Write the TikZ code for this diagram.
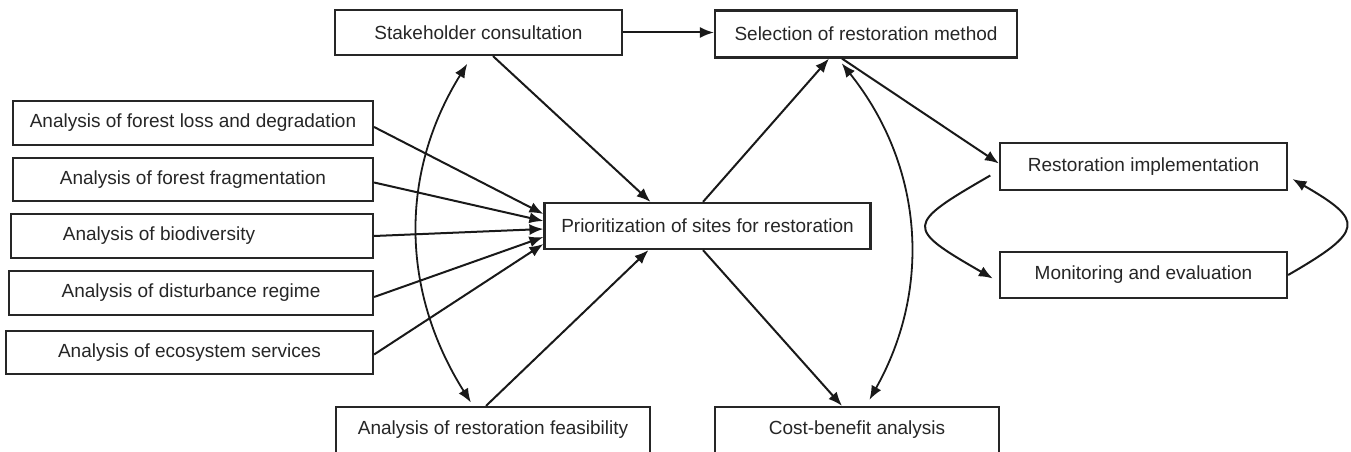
\documentclass[tikz,border=0pt]{standalone}
\usepackage{fontspec}
\setmainfont{Liberation Sans}
\usetikzlibrary{arrows.meta}
\tikzset{
  caixa/.style={draw=black!85, line width=2.2pt, fill=white, text=black!85, minimum height=44pt, inner sep=0pt, font=\fontsize{19}{22}\selectfont},
  seta/.style={line width=2pt, draw=black!90, -{Latex[length=14pt,width=11pt]}},
  setadupla/.style={line width=1.8pt, draw=black!90, {Latex[length=14pt,width=11pt]}-{Latex[length=14pt,width=11pt]}}
}
\begin{document}
\begin{tikzpicture}[x=1pt,y=-1pt] %Desenho em pixels
\useasboundingbox (0,0) rectangle (1351,452);
	%Caixas da esquerda
\node[caixa, minimum width=360pt] (perda) at (193,123) {Analysis of forest loss and degradation};
\node[caixa, minimum width=360pt, minimum height=43pt] (frag) at (193,179.5) {Analysis of forest fragmentation};
\node[caixa, minimum width=362pt] (bio) at (192,236) {\hspace*{-66pt}Analysis of biodiversity};
\node[caixa, minimum width=364pt] (dist) at (191,293) {Analysis of disturbance regime};
\node[caixa, minimum width=367pt, minimum height=43pt] (eco) at (189.5,352.5) {Analysis of ecosystem services};
	%Caixas do centro e da direita
\node[caixa, minimum width=287pt, minimum height=45pt] (consulta) at (478.5,32.5) {Stakeholder consultation};
\node[caixa, minimum width=302pt, minimum height=47pt] (selecao) at (866,34) {Selection of restoration method};
\node[caixa, minimum width=326pt, minimum height=46pt] (prior) at (707.5,226) {Prioritization of sites for restoration};
\node[caixa, minimum width=287pt, minimum height=47pt] (implem) at (1143.5,166.5) {Restoration implementation};
\node[caixa, minimum width=287pt, minimum height=46pt] (monit) at (1143.5,275) {Monitoring and evaluation};
\node[caixa, minimum width=314pt, minimum height=46pt] (viab) at (493,430) {Analysis of restoration feasibility};
\node[caixa, minimum width=284pt, minimum height=46pt] (custo) at (857,430) {Cost-benefit analysis};
	%Setas para a priorizacao
\draw[seta] ([yshift=-4pt]perda.east) -- ([yshift=12pt]prior.west);
\draw[seta] ([yshift=-3pt]frag.east) -- ([yshift=5pt]prior.west);
\draw[seta] (bio.east) -- ([yshift=-3pt]prior.west);
\draw[seta] ([yshift=-4pt]dist.east) -- ([yshift=-11pt]prior.west);
\draw[seta] ([yshift=-2pt]eco.east) -- ([yshift=-18pt]prior.west);
\draw[seta] ([xshift=14.5pt]consulta.south) -- ([xshift=-57pt]prior.north);
\draw[seta] ([xshift=-7pt]viab.north) -- ([xshift=-59pt]prior.south);
	%Demais setas
\draw[seta] (consulta.east) -- (consulta.east -| selecao.west);
\draw[seta] ([xshift=-4.5pt]prior.north) -- ([xshift=-37pt]selecao.south);
\draw[seta] ([xshift=-4.5pt]prior.south) -- ([xshift=-15pt]custo.north);
\draw[seta] ([xshift=-24pt]selecao.south) -- ([yshift=3pt]implem.west);
	%Curvas
\draw[setadupla, shorten <=9pt, shorten >=4pt] ([xshift=-6.5pt]consulta.south) to[bend right=32] ([xshift=-20pt]viab.north);
\draw[setadupla, shorten <=6pt, shorten >=7pt] ([xshift=-28pt]selecao.south) to[bend left=34] ([xshift=9pt]custo.north);
\draw[seta, shorten <=10pt, shorten >=7pt] ([yshift=-4pt]implem.west) to[out=210, in=150, looseness=2.5] ([yshift=-7pt]monit.west);
\draw[seta, shorten >=5pt] (monit.east) to[out=30, in=330, looseness=2.3] ([yshift=-10pt]implem.east);
\end{tikzpicture}
\end{document}
